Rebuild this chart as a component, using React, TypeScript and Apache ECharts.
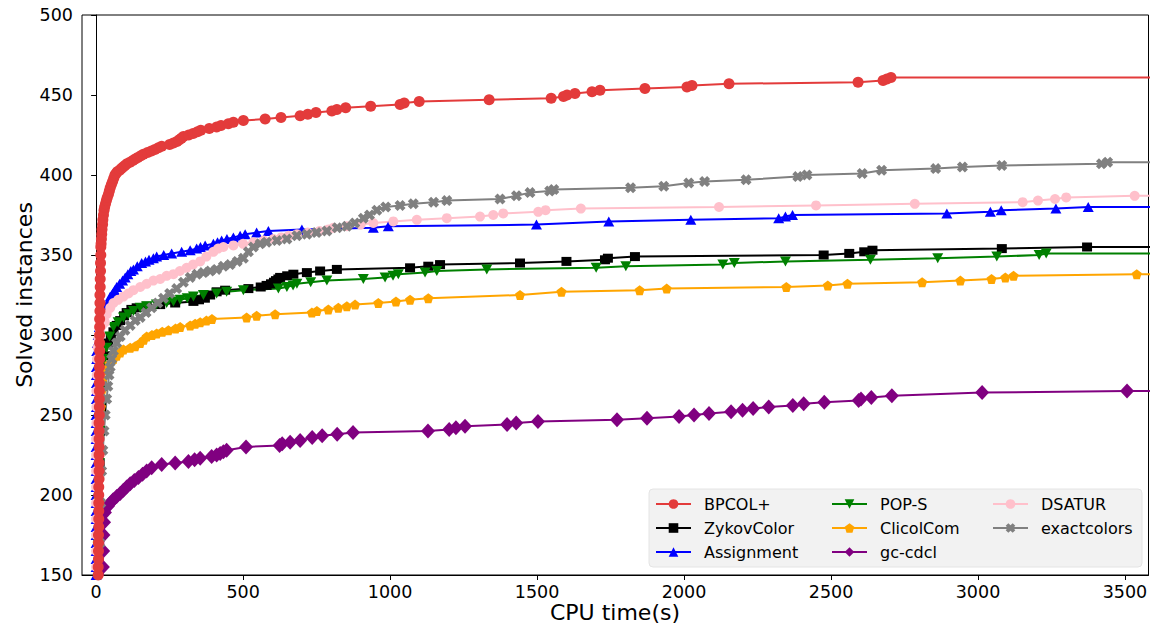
import React, { useEffect, useRef } from "react";
import * as echarts from "echarts";

const FONT = "DejaVu Sans";
const X_TICKS = [0, 500, 1000, 1500, 2000, 2500, 3000, 3500];
const X_MIN = -48;
const X_MAX = 3580;
const Y_MIN = 150;
const Y_MAX = 500;
const END_X = 3600;

type P = [number, number];

const bpcolPts: P[] = [
  [6, 145], [7, 150], [7, 155], [8, 160], [8, 165], [8, 170], [8, 175], [9, 180], [9, 185], [9, 190], [9, 195], [9, 200], [9, 205],
  [10, 210], [10, 215], [10, 220], [10, 225], [10, 230], [10, 235], [10, 240], [10, 245], [11, 250], [11, 255], [11, 260], [11, 265],
  [11, 270], [11, 275], [11, 280], [12, 285], [12, 290], [12, 295], [12, 300], [12, 305], [12, 310], [13, 315], [13, 320], [13, 325],
  [14, 330], [14, 335], [15, 340], [15, 345], [16, 350], [16, 355], [17, 357], [18, 360], [19, 363], [20, 366], [22, 369], [23, 372],
  [25, 375], [27, 378], [29, 380], [32, 382], [35, 384], [38, 386], [42, 388], [45, 390], [48, 392], [52, 394], [56, 396], [60, 398],
  [64, 400], [68, 401], [72, 402], [80, 403], [86, 404], [92, 405], [98, 406], [105, 407], [115, 408], [125, 409], [133, 410], [142, 411],
  [152, 412], [161, 413], [175, 414], [188, 415], [200, 416], [212, 417], [223, 418], [250, 419], [263, 420], [275, 421], [283, 422],
  [290, 423], [297, 424], [315, 425], [330, 426], [345, 427], [356, 428], [385, 429], [410, 430], [425, 431], [450, 432], [467, 433],
  [501, 434], [575, 435], [629, 436], [694, 437], [720, 438], [748, 439], [802, 440], [819, 441], [849, 442], [934, 443], [1034, 444],
  [1048, 445], [1099, 446], [1337, 447], [1548, 448], [1590, 449], [1602, 450], [1629, 451], [1687, 452], [1714, 453], [1867, 454],
  [2010, 455], [2027, 456], [2153, 457], [2592, 458], [2677, 459], [2690, 460], [2704, 461],
];

const zykovPts: P[] = [
  [6, 145], [8, 170], [10, 195], [12, 220], [14, 240], [17, 255], [20, 268], [25, 278], [31, 287], [41, 295], [50, 299], [59, 302],
  [70, 306], [82, 309], [95, 312], [104, 314], [120, 316], [138, 317], [172, 318], [218, 319], [269, 320], [331, 321], [350, 322],
  [370, 323], [388, 325], [410, 327], [439, 328], [518, 329], [560, 330], [580, 331], [595, 332], [605, 333], [612, 334], [620, 335],
  [626, 336], [650, 337], [671, 338], [717, 339], [762, 340], [819, 341], [1068, 342], [1130, 343], [1170, 344], [1442, 345],
  [1600, 346], [1731, 347], [1741, 348], [1833, 349], [2475, 350], [2562, 351], [2613, 352], [2641, 353], [3081, 354], [3371, 355],
];

const assignPts: P[] = [
  [0, 145], [0, 150], [0, 155], [0, 160], [0, 165], [0, 170], [0, 175], [0, 180], [0, 185], [0, 190], [0, 195], [0, 200], [0, 205],
  [0, 210], [0, 215], [0, 220], [0, 225], [0, 230], [0, 235], [0, 240], [0, 245], [0, 250], [1, 255], [1, 260], [1, 265], [1, 270],
  [1, 275], [1, 280], [2, 285], [2, 290], [4, 295], [7, 300], [11, 305], [18, 310], [30, 315], [36, 318], [42, 321], [48, 324],
  [56, 326], [63, 328], [70, 330], [80, 332], [90, 334], [99, 336], [108, 338], [118, 340], [127, 341], [140, 343], [155, 345],
  [168, 346], [180, 347], [195, 348], [206, 349], [230, 350], [257, 351], [291, 352], [320, 353], [342, 354], [355, 355], [371, 356],
  [399, 357], [413, 358], [427, 359], [445, 360], [467, 361], [490, 362], [507, 363], [546, 364], [586, 365], [700, 366], [943, 367],
  [994, 368], [1498, 369], [1744, 371], [2023, 372], [2322, 373], [2345, 374], [2369, 375], [2894, 376], [3042, 377], [3079, 378],
  [3265, 379], [3375, 380],
];

const popsPts: P[] = [
  [5, 145], [7, 170], [9, 195], [11, 220], [13, 240], [16, 255], [19, 268], [23, 278], [28, 285], [36, 292], [46, 299], [59, 305],
  [75, 308], [93, 311], [110, 313], [127, 315], [150, 317], [172, 318], [205, 319], [240, 320], [263, 321], [286, 322], [310, 323],
  [331, 324], [365, 325], [410, 326], [444, 327], [501, 328], [620, 329], [649, 330], [670, 331], [683, 332], [730, 333], [785, 334],
  [909, 335], [983, 336], [1010, 337], [1028, 338], [1119, 339], [1159, 340], [1329, 341], [1701, 342], [1802, 343], [2132, 344],
  [2171, 345], [2345, 346], [2634, 347], [2863, 348], [3064, 349], [3208, 350], [3232, 351],
];

const clicolPts: P[] = [
  [3, 145], [5, 170], [8, 195], [11, 220], [14, 240], [17, 255], [19, 265], [22, 272], [30, 278], [45, 282], [59, 285], [70, 287],
  [82, 289], [93, 291], [116, 292], [133, 293], [150, 295], [162, 297], [172, 299], [190, 300], [206, 301], [225, 302], [246, 303],
  [270, 304], [286, 305], [320, 306], [337, 307], [354, 308], [375, 309], [394, 310], [512, 311], [546, 312], [609, 313], [734, 314],
  [751, 315], [790, 316], [824, 317], [853, 318], [881, 319], [960, 320], [1020, 321], [1068, 322], [1130, 323], [1442, 325],
  [1583, 327], [1849, 328], [1941, 329], [2348, 330], [2489, 331], [2556, 332], [2810, 333], [2940, 334], [3046, 335], [3093, 336],
  [3121, 337], [3540, 338],
];

const gccdclPts: P[] = [
  [22, 145], [23, 155], [24, 165], [25, 175], [27, 183], [30, 189], [40, 193], [48, 195], [58, 197], [70, 199], [82, 201], [93, 203],
  [104, 205], [116, 207], [130, 209], [144, 211], [158, 213], [172, 215], [189, 217], [223, 219], [269, 220], [314, 221], [335, 222],
  [354, 223], [393, 224], [410, 225], [422, 226], [433, 227], [444, 228], [510, 230], [624, 231], [633, 232], [660, 233], [694, 234],
  [735, 236], [769, 237], [820, 238], [874, 239], [1129, 240], [1201, 241], [1224, 242], [1255, 243], [1398, 244], [1429, 245],
  [1503, 246], [1772, 247], [1874, 248], [1983, 249], [2034, 250], [2085, 251], [2160, 252], [2199, 253], [2235, 254], [2288, 255],
  [2370, 256], [2407, 257], [2477, 258], [2594, 259], [2602, 260], [2637, 261], [2707, 262], [3014, 264], [3507, 265],
];

const dsaturPts: P[] = [
  [0, 145], [0, 155], [0, 165], [0, 175], [0, 185], [0, 195], [0, 205], [0, 215], [0, 225], [0, 235], [1, 245], [1, 255], [1, 265],
  [2, 275], [3, 285], [5, 292], [8, 298], [13, 303], [20, 306], [30, 308], [36, 313], [48, 317], [59, 320], [75, 322], [93, 324],
  [110, 326], [127, 328], [150, 330], [172, 332], [195, 334], [218, 335], [240, 337], [263, 338], [285, 340], [308, 342], [330, 344],
  [354, 346], [375, 349], [399, 352], [415, 354], [433, 355], [467, 356], [500, 357], [535, 358], [570, 359], [603, 360], [630, 361],
  [655, 362], [683, 363], [720, 364], [760, 365], [790, 366], [807, 367], [853, 368], [900, 369], [943, 370], [1011, 371], [1091, 372],
  [1193, 373], [1306, 374], [1351, 375], [1385, 376], [1504, 377], [1529, 378], [1649, 379], [2119, 380], [2449, 381], [2785, 382],
  [3152, 383], [3204, 384], [3262, 385], [3300, 386], [3533, 387],
];

const exactPts: P[] = [
  [10, 145], [13, 170], [16, 195], [19, 215], [23, 228], [27, 240], [31, 250], [36, 260], [40, 268], [44, 275], [48, 280], [53, 285],
  [59, 290], [70, 295], [82, 299], [98, 303], [116, 306], [133, 309], [150, 311], [170, 314], [189, 317], [210, 320], [229, 323],
  [250, 326], [274, 329], [297, 333], [320, 336], [343, 338], [365, 339], [388, 340], [410, 341], [433, 343], [456, 344], [480, 346],
  [501, 348], [518, 352], [535, 355], [558, 357], [580, 358], [615, 359], [649, 360], [683, 362], [717, 363], [750, 364], [785, 365],
  [820, 367], [853, 368], [880, 370], [909, 373], [930, 375], [955, 378], [985, 380], [1034, 381], [1079, 382], [1148, 383],
  [1193, 384], [1374, 385], [1430, 387], [1476, 389], [1543, 390], [1557, 391], [1818, 392], [1931, 393], [2016, 395], [2070, 396],
  [2211, 397], [2387, 399], [2418, 400], [2606, 401], [2672, 403], [2856, 404], [2947, 405], [3081, 406], [3420, 407], [3441, 408],
];

const PENTAGON = "path://M0,-1L0.951,-0.309L0.588,0.809L-0.588,0.809L-0.951,-0.309Z";
const XMARK = "path://M-1,-0.45L-0.45,-1L0,-0.55L0.45,-1L1,-0.45L0.55,0L1,0.45L0.45,1L0,0.55L-0.45,1L-1,0.45L-0.55,0Z";

function mkSeries(name: string, pts: P[], color: string, symbol: string, size: any, z: number, rotate = 0) {
  const last = pts[pts.length - 1];
  return {
    name,
    type: "line",
    data: [...pts.map((p) => [p[0], p[1]]), { value: [END_X, last[1]], symbol: "none" }],
    symbol,
    symbolSize: size,
    symbolRotate: rotate,
    showSymbol: true,
    lineStyle: { color, width: 2 },
    itemStyle: { color },
    z,
    clip: true,
    emphasis: { disabled: true },
  };
}

export default function App() {
  const ref = useRef<HTMLDivElement>(null);
  useEffect(() => {
    if (!ref.current) return;
    const chart = echarts.init(ref.current, undefined, { renderer: "svg" });
    const legendBase = {
      orient: "vertical",
      padding: 0,
      itemWidth: 35,
      itemHeight: 12,
      itemGap: 8,
      selectedMode: false,
      z: 6,
      textStyle: { fontSize: 16, color: "#000", fontFamily: FONT, padding: [0, 0, 0, 8] },
    };
    chart.setOption({
      animation: false,
      grid: { left: 82, top: 15, width: 1066.5, height: 560, show: true, borderColor: "#000", borderWidth: 1 },
      xAxis: {
        type: "value",
        min: X_MIN,
        max: X_MAX,
        axisLine: { show: true, lineStyle: { color: "#000", width: 1 } },
        axisTick: { show: true, customValues: X_TICKS, length: 5, lineStyle: { color: "#000" } },
        axisLabel: {
          customValues: X_TICKS,
          fontSize: 17.5,
          color: "#000",
          fontFamily: FONT,
          margin: 8,
          formatter: (v: number) => String(v),
        },
        splitLine: { show: false },
      },
      yAxis: {
        type: "value",
        min: Y_MIN,
        max: Y_MAX,
        interval: 50,
        axisLine: { show: true, lineStyle: { color: "#000", width: 1 } },
        axisTick: { show: true, length: 5, lineStyle: { color: "#000" } },
        axisLabel: { fontSize: 17.5, color: "#000", fontFamily: FONT, margin: 9, formatter: (v: number) => String(v) },
        splitLine: { show: false },
      },
      legend: [
        { ...legendBase, data: ["BPCOL+", "ZykovColor", "Assignment"], left: 655, top: 496 },
        { ...legendBase, data: ["POP-S", "ClicolCom", "gc-cdcl"], left: 831, top: 496 },
        { ...legendBase, data: ["DSATUR", "exactcolors"], left: 992, top: 496 },
      ],
      graphic: [
        {
          type: "rect",
          z: 5,
          shape: { x: 649, y: 489, width: 493, height: 78, r: 4 },
          style: { fill: "#f2f2f2", stroke: "#e4e4e4", lineWidth: 1 },
        },
        {
          type: "text",
          x: 615,
          y: 612,
          style: { text: "CPU time(s)", fontSize: 22, fontFamily: FONT, fill: "#000", textAlign: "center", textVerticalAlign: "middle" },
        },
        {
          type: "text",
          x: 24,
          y: 295,
          rotation: Math.PI / 2,
          style: { text: "Solved instances", fontSize: 22, fontFamily: FONT, fill: "#000", textAlign: "center", textVerticalAlign: "middle" },
        },
      ],
      series: [
        mkSeries("ZykovColor", zykovPts, "#000000", "rect", [10, 9], 2),
        mkSeries("Assignment", assignPts, "#0000ff", "triangle", [11, 10], 2),
        mkSeries("POP-S", popsPts, "#008000", "triangle", [11, 10], 2, 180),
        mkSeries("ClicolCom", clicolPts, "#ffa500", PENTAGON, 10, 2),
        mkSeries("gc-cdcl", gccdclPts, "#800080", "diamond", [14, 15], 2),
        mkSeries("DSATUR", dsaturPts, "#ffc0cb", "circle", 10, 2),
        mkSeries("exactcolors", exactPts, "#808080", XMARK, 11, 2),
        mkSeries("BPCOL+", bpcolPts, "#e33b3b", "circle", 11, 3),
      ],
    });
    return () => chart.dispose();
  }, []);
  return <div ref={ref} style={{ position: "absolute", left: 0, top: 0, width: 1151, height: 627 }} />;
}
